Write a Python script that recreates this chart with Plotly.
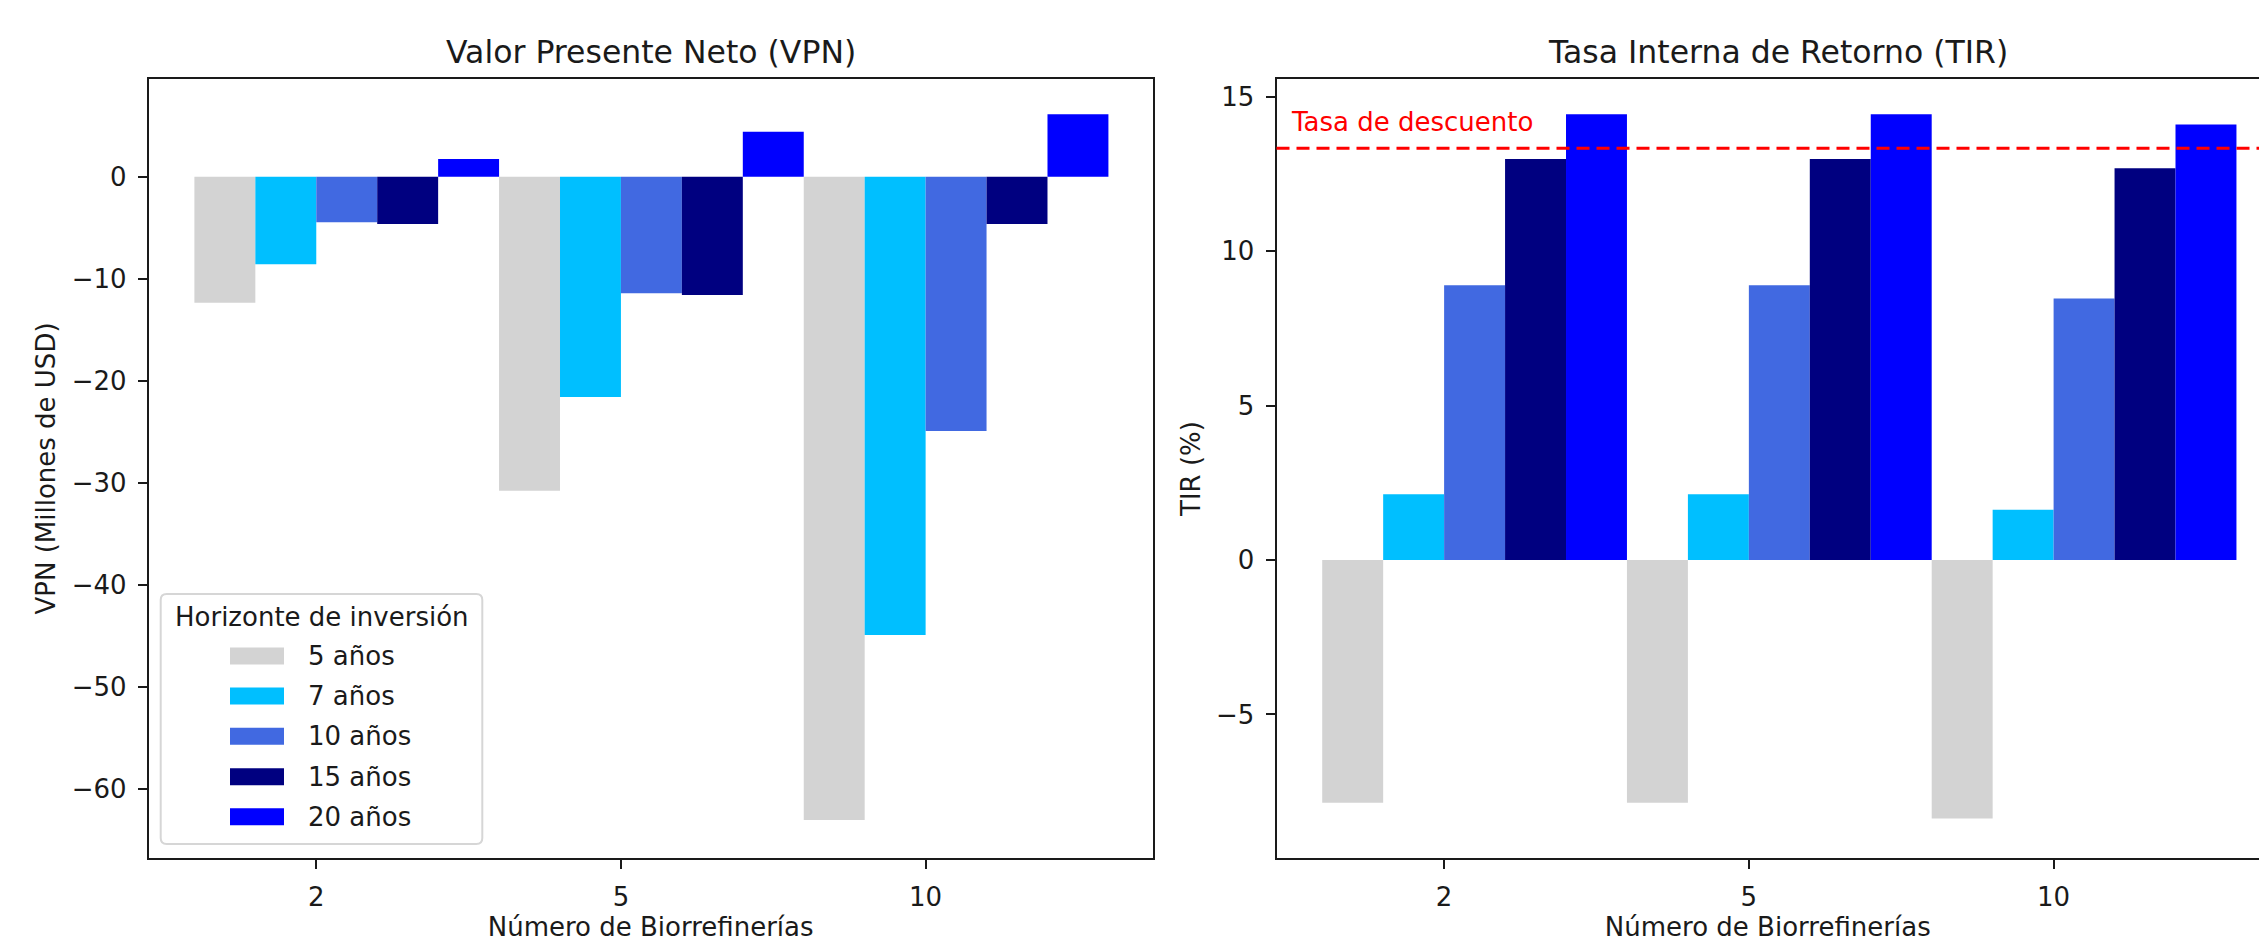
import plotly.graph_objects as go

# Número de biorrefinerías (categorías del eje x)
categories = ["2", "5", "10"]
horizons = ["5 años", "7 años", "10 años", "15 años", "20 años"]
colors = ["lightgray", "deepskyblue", "royalblue", "navy", "blue"]

# VPN (millones de USD) por horizonte de inversión
vpn_5 = [-12.35, -30.8, -63.07]
vpn_7 = [-8.59, -21.6, -44.93]
vpn_10 = [-4.47, -11.43, -24.93]
vpn_15 = [-4.64, -11.6, -4.64]
vpn_20 = [1.74, 4.41, 6.12]

# TIR (%) por horizonte de inversión
tir_5 = [-7.86, -7.86, -8.37]
tir_7 = [2.13, 2.13, 1.63]
tir_10 = [8.90, 8.90, 8.47]
tir_15 = [12.99, 12.99, 12.69]
tir_20 = [14.44, 14.44, 14.11]

tasa_descuento = 13.34

vpn_series = [vpn_5, vpn_7, vpn_10, vpn_15, vpn_20]
tir_series = [tir_5, tir_7, tir_10, tir_15, tir_20]

bar_width = 0.2
W, H = 2259, 942
FONT = "DejaVu Sans"
TXT = "#1a1a1a"
FS = 26


def px_x(p):
    return p / W


def px_y(p):
    return 1 - p / H


fig = go.Figure()

for i, (name, color) in enumerate(zip(horizons, colors)):
    xs = [j + (i - 1.5) * bar_width for j in range(len(categories))]
    fig.add_trace(go.Bar(x=xs, y=vpn_series[i], width=bar_width, name=name,
                         marker=dict(color=color, line=dict(width=0)),
                         xaxis="x", yaxis="y", showlegend=False))
    fig.add_trace(go.Bar(x=xs, y=tir_series[i], width=bar_width, name=name,
                         marker=dict(color=color, line=dict(width=0)),
                         xaxis="x2", yaxis="y2", showlegend=False))

axis_common = dict(
    showline=True, linecolor=TXT, linewidth=2,
    ticks="outside", ticklen=9, tickwidth=2, tickcolor=TXT,
    showgrid=False, zeroline=False,
    tickfont=dict(family=FONT, size=FS, color=TXT),
    ticklabelstandoff=6,
)

ytick_vpn = [-60, -50, -40, -30, -20, -10, 0]
ytick_tir = [-5, 0, 5, 10, 15]


def fmt(v):
    return ("\u2212" + str(abs(v))) if v < 0 else str(v)


fig.update_layout(
    width=W, height=H,
    margin=dict(l=0, r=0, t=0, b=0),
    paper_bgcolor="white", plot_bgcolor="white",
    barmode="overlay",
    font=dict(family=FONT, size=FS, color=TXT),
    xaxis=dict(domain=[px_x(148.7), px_x(1152.6)], range=[-0.55, 2.745],
               tickvals=[0, 1, 2], ticktext=categories, mirror=True,
               title=dict(text="Número de Biorrefinerías", standoff=8,
                          font=dict(family=FONT, size=FS, color=TXT)),
               anchor="y", **axis_common),
    yaxis=dict(domain=[px_y(858), px_y(79)], range=[-66.8, 9.58],
               tickvals=ytick_vpn, ticktext=[fmt(v) for v in ytick_vpn],
               mirror=True,
               title=dict(text="VPN (Millones de USD)", standoff=9,
                          font=dict(family=FONT, size=FS, color=TXT)),
               anchor="x", **axis_common),
    xaxis2=dict(domain=[px_x(1276.5), 1.0], range=[-0.55, 2.674],
                tickvals=[0, 1, 2], ticktext=categories, mirror=True,
                title=dict(text="Número de Biorrefinerías", standoff=8,
                           font=dict(family=FONT, size=FS, color=TXT)),
                anchor="y2", **axis_common),
    yaxis2=dict(domain=[px_y(858), px_y(79)], range=[-9.65, 15.58],
                tickvals=ytick_tir, ticktext=[fmt(v) for v in ytick_tir],
                mirror=False,
                title=dict(text="TIR (%)", standoff=8,
                           font=dict(family=FONT, size=FS, color=TXT)),
                anchor="x2", **axis_common),
)

# Línea de la tasa de descuento
fig.add_shape(type="line", xref="x2 domain", yref="y2", x0=0, x1=1,
              y0=tasa_descuento, y1=tasa_descuento,
              line=dict(color="red", width=3, dash="13px,7px"))
fig.add_annotation(text="Tasa de descuento", xref="paper", yref="y2",
                   x=px_x(1289), y=tasa_descuento, xanchor="left", yanchor="bottom",
                   yshift=9, showarrow=False,
                   font=dict(family=FONT, size=FS, color="red"))

# Títulos de los paneles
for text, cx in [("Valor Presente Neto (VPN)", (148.7 + 1152.6) / 2),
                 ("Tasa Interna de Retorno (TIR)", 1778)]:
    fig.add_annotation(text=text, xref="paper", yref="paper",
                       x=px_x(cx), y=px_y(52), xanchor="center", yanchor="middle",
                       showarrow=False, font=dict(family=FONT, size=31.5, color=TXT))

# Leyenda: caja, título y una entrada por horizonte
bx0, bx1, by0, by1, r = 160.7, 482.3, 594, 844, 6
path = (f"M {px_x(bx0 + r)},{px_y(by0)} L {px_x(bx1 - r)},{px_y(by0)} "
        f"Q {px_x(bx1)},{px_y(by0)} {px_x(bx1)},{px_y(by0 + r)} "
        f"L {px_x(bx1)},{px_y(by1 - r)} "
        f"Q {px_x(bx1)},{px_y(by1)} {px_x(bx1 - r)},{px_y(by1)} "
        f"L {px_x(bx0 + r)},{px_y(by1)} "
        f"Q {px_x(bx0)},{px_y(by1)} {px_x(bx0)},{px_y(by1 - r)} "
        f"L {px_x(bx0)},{px_y(by0 + r)} "
        f"Q {px_x(bx0)},{px_y(by0)} {px_x(bx0 + r)},{px_y(by0)} Z")
fig.add_shape(type="path", path=path, xref="paper", yref="paper",
              fillcolor="rgba(255,255,255,0.8)", line=dict(color="#d6d6d6", width=2),
              layer="above")
fig.add_annotation(text="Horizonte de inversión", xref="paper", yref="paper",
                   x=px_x(321.7), y=px_y(616.7), xanchor="center", yanchor="middle",
                   showarrow=False, font=dict(family=FONT, size=FS, color=TXT))
entry_y = [656, 696, 736.3, 776.7, 816.7]
for name, color, ey in zip(horizons, colors, entry_y):
    fig.add_shape(type="rect", xref="paper", yref="paper",
                  x0=px_x(230), x1=px_x(284), y0=px_y(ey - 8.5), y1=px_y(ey + 8.5),
                  fillcolor=color, line=dict(width=0), layer="above")
    fig.add_annotation(text=name, xref="paper", yref="paper",
                       x=px_x(305.7), y=px_y(ey), xanchor="left", yanchor="middle",
                       showarrow=False, font=dict(family=FONT, size=FS, color=TXT))

fig.write_html("out.html")
